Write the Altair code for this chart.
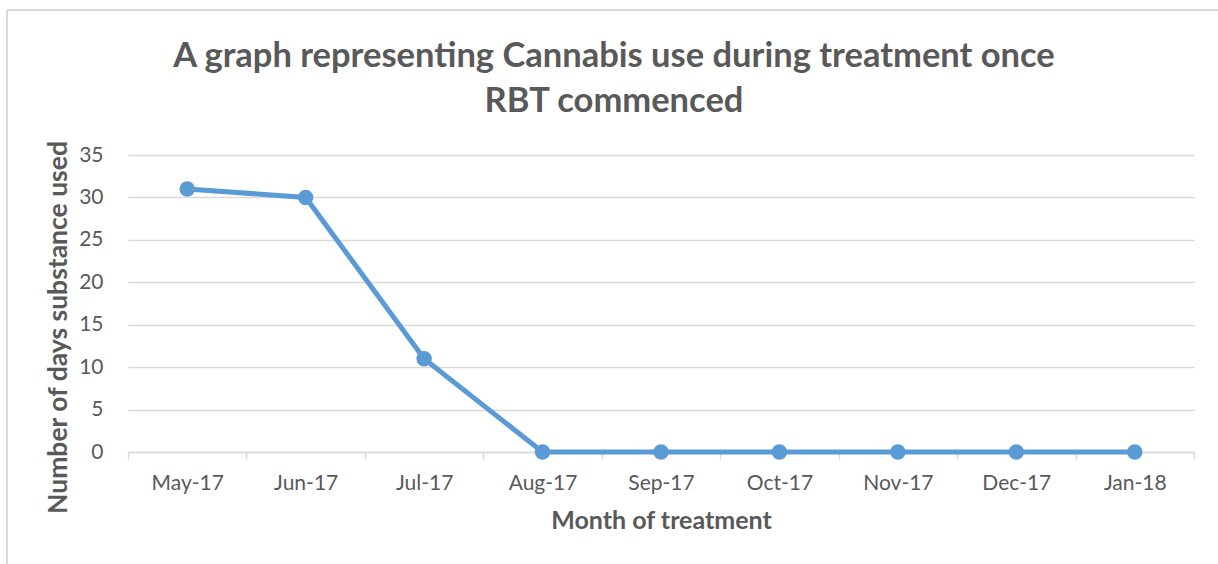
import altair as alt
import pandas as pd

# Monthly cannabis use (days per month) after RBT commenced
months = ["May-17", "Jun-17", "Jul-17", "Aug-17", "Sep-17", "Oct-17", "Nov-17", "Dec-17", "Jan-18"]
days_used = [31, 30, 11, 0, 0, 0, 0, 0, 0]
y_ticks = [0, 5, 10, 15, 20, 25, 30, 35]

df = pd.DataFrame({"month": months, "days": days_used})

GREY = "#595959"
LIGHT = "#D9D9D9"
BLUE = "#5B9BD5"
FONT = "Lato"

line = (
    alt.Chart(df)
    .mark_line(
        color=BLUE,
        strokeWidth=5,
        point=alt.OverlayMarkDef(color=BLUE, filled=True, size=240, opacity=1),
    )
    .encode(
        x=alt.X(
            "month:N",
            sort=months,
            bandPosition=0.5,
            scale=alt.Scale(type="band", paddingInner=0, paddingOuter=0),
            axis=alt.Axis(
                title="Month of treatment",
                grid=False,
                tickBand="extent",
                tickSize=7,
                tickColor=LIGHT,
                tickWidth=1.5,
                domainColor=LIGHT,
                domainWidth=1.5,
                labelAngle=0,
                labelPadding=13,
                titlePadding=15,
                titleFontSize=25,
            ),
        ),
        y=alt.Y(
            "days:Q",
            scale=alt.Scale(domain=[0, 35]),
            axis=alt.Axis(
                title="Number of days substance used",
                values=y_ticks,
                grid=True,
                gridColor=LIGHT,
                gridWidth=1.5,
                domain=False,
                ticks=False,
                labelPadding=25,
                titleX=-70,
                titleY=172,
                titleAlign="center",
                titleBaseline="middle",
                titleFontSize=26.5,
            ),
        ),
    )
)

# Thin frame along the top and left edges of the chart area
frame_top = alt.Chart(df).mark_rule(color=LIGHT, strokeWidth=1.5).encode(
    x=alt.value(-121), x2=alt.value(1100), y=alt.value(-145)
)
frame_left = alt.Chart(df).mark_rule(color=LIGHT, strokeWidth=1.5).encode(
    x=alt.value(-121), y=alt.value(-145), y2=alt.value(420)
)

chart = (
    alt.layer(frame_top, frame_left, line)
    .properties(
        width=1066,
        height=297,
        background="white",
        autosize=alt.AutoSizeParams(type="none"),
        padding={"left": 128, "top": 155, "right": 24, "bottom": 112},
        title=alt.TitleParams(
            text=["A graph representing Cannabis use during treatment once", "RBT commenced"],
            fontSize=34.5,
            font=FONT,
            fontWeight="bold",
            color=GREY,
            anchor="middle",
            dx=-47,
            offset=-110,
            lineHeight=45,
        ),
    )
    .configure_view(stroke=None)
    .configure_axis(
        labelFont=FONT,
        labelFontSize=21,
        labelColor=GREY,
        titleFont=FONT,
        titleFontWeight="bold",
        titleColor=GREY,
    )
)

chart.save("out.html", embed_options={"renderer": "svg", "actions": False})
